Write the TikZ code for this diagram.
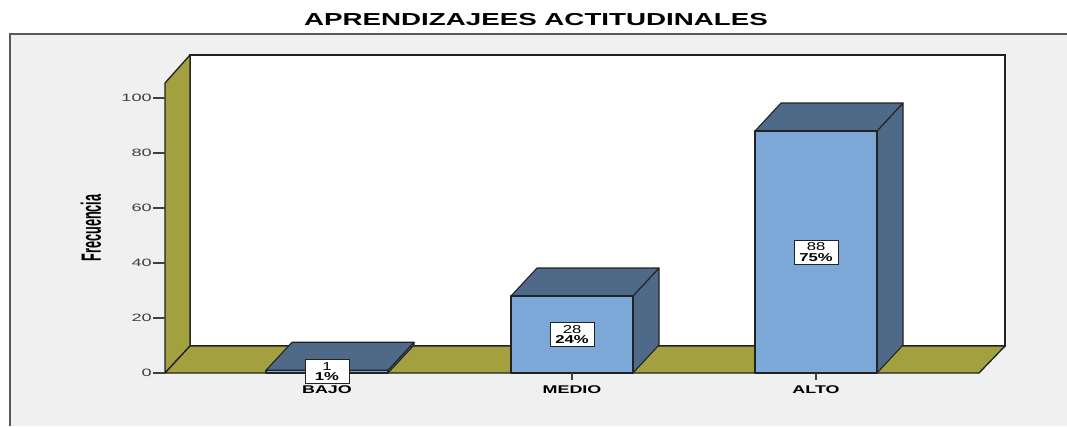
\documentclass[tikz,border=0pt]{standalone}
\usepackage{fontspec}
\setmainfont{Liberation Sans}
\definecolor{panelgray}{HTML}{F0F0F0}
\definecolor{olivewall}{HTML}{A3A03F}
\definecolor{barfront}{HTML}{7BA8D6}
\definecolor{bardark}{HTML}{4E6A88}
\definecolor{edgegray}{HTML}{222222}
\newcommand{\widetext}[2]{\scalebox{#1}[1]{#2}}

\begin{document}
\begin{tikzpicture}[x=0.75pt,y=-0.75pt,
    wall/.style={draw=edgegray, line width=1pt, fill=olivewall, line join=round},
    barface/.style={draw=edgegray, line width=0.8pt, fill=barfront, line join=round},
    bardepth/.style={draw=edgegray, line width=0.8pt, fill=bardark, line join=round},
    valbox/.style={draw=edgegray, fill=white, inner sep=1pt, align=center,
        minimum width=33pt, minimum height=18pt, font=\fontsize{8.6}{8}\selectfont},
    catlabel/.style={font=\fontsize{8.4}{9}\selectfont\bfseries, inner sep=0pt},
    ticklabel/.style={font=\fontsize{8}{9}\selectfont, text=black!75, anchor=east, inner sep=0pt}]
    \useasboundingbox (0,0) rectangle (1067,426);
    \fill[white] (0,0) rectangle (1067,426);

    % panel round the chart
    \fill[panelgray] (10,34) rectangle (1067,426);
    \draw[black!65, line width=1pt] (10,426) -- (10,34) -- (1067,34);

    % title
    \node (title) at (536,20) {\widetext{1.6}{\fontsize{13}{14}\selectfont\bfseries APRENDIZAJEES ACTITUDINALES}};

    % back wall, left wall and floor
    \draw[fill=white, draw=edgegray, line width=0.8pt] (190,346) rectangle (1005,55);
    \draw[edgegray, line width=1.8pt] (1005,55) -- (1005,346);
    \draw[wall] (165,373) -- (165,83) -- (190,55) -- (190,346) -- cycle;
    \draw[wall] (165,373) -- (190,346) -- (1005,346) -- (979,373) -- cycle;

    % axis ticks
    \foreach \v in {0,20,...,100}{
        \draw[black!75, line width=0.8pt] (153,{373-2.75*\v}) -- (165,{373-2.75*\v});
        \node[ticklabel] (tick\v) at (152,{373-2.75*\v}) {\widetext{1.7}{\v}};
    }
    \node[rotate=90] (ylabel) at (91,228)
        {\scalebox{1}[2.2]{\fontsize{9.5}{10}\selectfont\bfseries Frecuencia}};

    % bars
    \foreach \cx/\val/\pct/\lab in {327/1/1/BAJO, 572/28/24/MEDIO, 816/88/75/ALTO}{
        \pgfmathsetmacro\ytop{373-2.75*\val}
        \draw[bardepth] (\cx+61,\ytop) -- (\cx+87,\ytop-28) -- (\cx+87,345) -- (\cx+61,373) -- cycle;
        \draw[bardepth] (\cx-61,\ytop) -- (\cx-35,\ytop-28) -- (\cx+87,\ytop-28) -- (\cx+61,\ytop) -- cycle;
        \draw[barface] (\cx-61,373) rectangle (\cx+61,\ytop);
        \draw[black!75, line width=0.8pt] (\cx,373) -- (\cx,380);
        \node[valbox] (val\lab) at (\cx,{(373+\ytop)/2})
            {\widetext{1.45}{\val}\\\widetext{1.45}{\bfseries\pct\%}};
        \node[catlabel] (cat\lab) at (\cx,390) {\widetext{1.6}{\lab}};
    }
\end{tikzpicture}
\end{document}
